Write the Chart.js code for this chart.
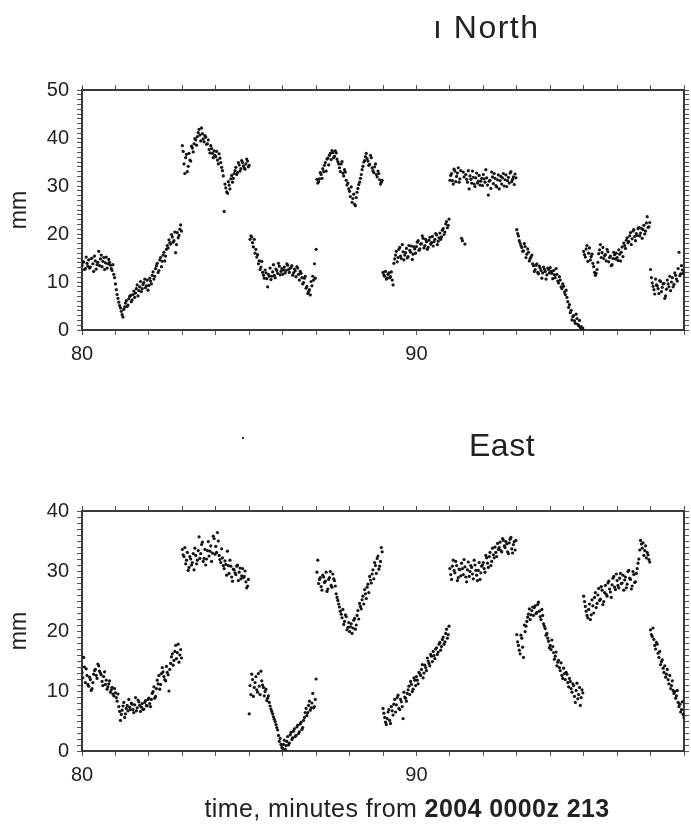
<!DOCTYPE html>
<html>
<head>
<meta charset="utf-8">
<script src="https://cdn.jsdelivr.net/npm/chart.js@4.4.1/dist/chart.umd.min.js"></script>
<style>
    html, body { margin: 0; padding: 0; background: #fff; }
    body { width: 691px; height: 829px; position: relative; overflow: hidden; font-family: "Liberation Sans", Arial, sans-serif; color: #222; }
    .plot { position: absolute; left: 0; }
    .title { position: absolute; font-size: 32px; color: #222; white-space: nowrap; }
    #xlabel { position: absolute; left: 0; width: 814px; top: 794px; text-align: center; font-size: 25px; white-space: nowrap; color: #222; letter-spacing: 0.4px; }
    #xlabel b { font-weight: 600; }
    #speck { position: absolute; left: 242px; top: 437px; width: 2px; height: 2px; background: #333; }
</style>
</head>
<body>
<div class="plot" style="top:0"><canvas id="north-chart" width="691" height="380"></canvas></div>
<div class="plot" style="top:400px"><canvas id="east-chart" width="691" height="400"></canvas></div>
<div class="title" style="left:433px; top:9px; letter-spacing:1.5px">ı North</div>
<div class="title" style="left:469px; top:427px; letter-spacing:0.5px">East</div>
<div id="speck"></div>
<div id="xlabel">time, minutes from <b>2004 0000z 213</b></div>
<script>
// sample times, minutes from 2004 0000z 213 (on the minute grid)
const minutes = [
    80.00,80.05,80.10,80.15,80.20,80.25,80.30,80.35,80.40,80.45,80.50,80.55,80.60,80.65,80.70,80.75,80.80,80.85,80.90,80.95,
    81.00,81.05,81.10,81.15,81.20,81.25,81.30,81.35,81.40,81.45,81.50,81.55,81.60,81.65,81.70,81.75,81.80,81.85,81.90,81.95,
    82.00,82.05,82.10,82.15,82.20,82.25,82.30,82.35,82.40,82.45,82.50,82.55,82.60,82.65,82.70,82.75,82.80,82.85,82.90,82.95,
    83.00,83.05,83.10,83.15,83.20,83.25,83.30,83.35,83.40,83.45,83.50,83.55,83.60,83.65,83.70,83.75,83.80,83.85,83.90,83.95,
    84.00,84.05,84.10,84.15,84.20,84.25,84.30,84.35,84.40,84.45,84.50,84.55,84.60,84.65,84.70,84.75,84.80,84.85,84.90,84.95,
    85.00,85.05,85.10,85.15,85.20,85.25,85.30,85.35,85.40,85.45,85.50,85.55,85.60,85.65,85.70,85.75,85.80,85.85,85.90,85.95,
    86.00,86.05,86.10,86.15,86.20,86.25,86.30,86.35,86.40,86.45,86.50,86.55,86.60,86.65,86.70,86.75,86.80,86.85,86.90,86.95,
    87.00,87.05,87.10,87.15,87.20,87.25,87.30,87.35,87.40,87.45,87.50,87.55,87.60,87.65,87.70,87.75,87.80,87.85,87.90,87.95,
    88.00,88.05,88.10,88.15,88.20,88.25,88.30,88.35,88.40,88.45,88.50,88.55,88.60,88.65,88.70,88.75,88.80,88.85,88.90,88.95,
    89.00,89.05,89.10,89.15,89.20,89.25,89.30,89.35,89.40,89.45,89.50,89.55,89.60,89.65,89.70,89.75,89.80,89.85,89.90,89.95,
    90.00,90.05,90.10,90.15,90.20,90.25,90.30,90.35,90.40,90.45,90.50,90.55,90.60,90.65,90.70,90.75,90.80,90.85,90.90,90.95,
    91.00,91.05,91.10,91.15,91.20,91.25,91.30,91.35,91.40,91.45,91.50,91.55,91.60,91.65,91.70,91.75,91.80,91.85,91.90,91.95,
    92.00,92.05,92.10,92.15,92.20,92.25,92.30,92.35,92.40,92.45,92.50,92.55,92.60,92.65,92.70,92.75,92.80,92.85,92.90,92.95,
    93.00,93.05,93.10,93.15,93.20,93.25,93.30,93.35,93.40,93.45,93.50,93.55,93.60,93.65,93.70,93.75,93.80,93.85,93.90,93.95,
    94.00,94.05,94.10,94.15,94.20,94.25,94.30,94.35,94.40,94.45,94.50,94.55,94.60,94.65,94.70,94.75,94.80,94.85,94.90,94.95,
    95.00,95.05,95.10,95.15,95.20,95.25,95.30,95.35,95.40,95.45,95.50,95.55,95.60,95.65,95.70,95.75,95.80,95.85,95.90,95.95,
    96.00,96.05,96.10,96.15,96.20,96.25,96.30,96.35,96.40,96.45,96.50,96.55,96.60,96.65,96.70,96.75,96.80,96.85,96.90,96.95,
    97.00,97.05,97.10,97.15,97.20,97.25,97.30,97.35,97.40,97.45,97.50,97.55,97.60,97.65,97.70,97.75,97.80,97.85,97.90,97.95,
    98.00
];

// in-between sample times
const minutesMid = [
    80.025,80.075,80.125,80.175,80.225,80.275,80.325,80.375,80.425,80.475,80.525,80.575,80.625,80.675,80.725,80.775,80.825,80.875,80.925,80.975,
    81.025,81.075,81.125,81.175,81.225,81.275,81.325,81.375,81.425,81.475,81.525,81.575,81.625,81.675,81.725,81.775,81.825,81.875,81.925,81.975,
    82.025,82.075,82.125,82.175,82.225,82.275,82.325,82.375,82.425,82.475,82.525,82.575,82.625,82.675,82.725,82.775,82.825,82.875,82.925,82.975,
    83.025,83.075,83.125,83.175,83.225,83.275,83.325,83.375,83.425,83.475,83.525,83.575,83.625,83.675,83.725,83.775,83.825,83.875,83.925,83.975,
    84.025,84.075,84.125,84.175,84.225,84.275,84.325,84.375,84.425,84.475,84.525,84.575,84.625,84.675,84.725,84.775,84.825,84.875,84.925,84.975,
    85.025,85.075,85.125,85.175,85.225,85.275,85.325,85.375,85.425,85.475,85.525,85.575,85.625,85.675,85.725,85.775,85.825,85.875,85.925,85.975,
    86.025,86.075,86.125,86.175,86.225,86.275,86.325,86.375,86.425,86.475,86.525,86.575,86.625,86.675,86.725,86.775,86.825,86.875,86.925,86.975,
    87.025,87.075,87.125,87.175,87.225,87.275,87.325,87.375,87.425,87.475,87.525,87.575,87.625,87.675,87.725,87.775,87.825,87.875,87.925,87.975,
    88.025,88.075,88.125,88.175,88.225,88.275,88.325,88.375,88.425,88.475,88.525,88.575,88.625,88.675,88.725,88.775,88.825,88.875,88.925,88.975,
    89.025,89.075,89.125,89.175,89.225,89.275,89.325,89.375,89.425,89.475,89.525,89.575,89.625,89.675,89.725,89.775,89.825,89.875,89.925,89.975,
    90.025,90.075,90.125,90.175,90.225,90.275,90.325,90.375,90.425,90.475,90.525,90.575,90.625,90.675,90.725,90.775,90.825,90.875,90.925,90.975,
    91.025,91.075,91.125,91.175,91.225,91.275,91.325,91.375,91.425,91.475,91.525,91.575,91.625,91.675,91.725,91.775,91.825,91.875,91.925,91.975,
    92.025,92.075,92.125,92.175,92.225,92.275,92.325,92.375,92.425,92.475,92.525,92.575,92.625,92.675,92.725,92.775,92.825,92.875,92.925,92.975,
    93.025,93.075,93.125,93.175,93.225,93.275,93.325,93.375,93.425,93.475,93.525,93.575,93.625,93.675,93.725,93.775,93.825,93.875,93.925,93.975,
    94.025,94.075,94.125,94.175,94.225,94.275,94.325,94.375,94.425,94.475,94.525,94.575,94.625,94.675,94.725,94.775,94.825,94.875,94.925,94.975,
    95.025,95.075,95.125,95.175,95.225,95.275,95.325,95.375,95.425,95.475,95.525,95.575,95.625,95.675,95.725,95.775,95.825,95.875,95.925,95.975,
    96.025,96.075,96.125,96.175,96.225,96.275,96.325,96.375,96.425,96.475,96.525,96.575,96.625,96.675,96.725,96.775,96.825,96.875,96.925,96.975,
    97.025,97.075,97.125,97.175,97.225,97.275,97.325,97.375,97.425,97.475,97.525,97.575,97.625,97.675,97.725,97.775,97.825,97.875,97.925,97.975
];

// North component, mm (one row per minute)
const northMm = [
    13.5,14.2,12.8,13.9,14.6,13.1,15.0,12.2,14.4,13.6,16.4,14.8,13.2,15.1,14.0,12.9,14.7,13.5,12.4,11.6,
    9.6,7.4,5.8,4.6,3.2,4.3,5.6,4.9,6.5,7.2,6.3,8.1,7.7,9.4,8.2,10.1,8.6,9.9,8.8,10.4,
    9.3,10.2,11.4,10.6,12.8,13.9,12.4,15.1,14.3,16.2,15.4,17.6,18.8,17.9,19.4,18.6,16.1,20.3,19.7,21.9,
    38.4,34.6,35.9,33.0,36.8,35.2,37.9,38.8,39.6,40.3,41.8,39.4,40.9,39.2,40.2,38.8,37.6,38.4,36.8,37.3,
    36.1,35.4,36.7,34.9,33.2,24.7,29.6,28.5,30.2,31.5,30.8,32.6,33.9,32.8,34.4,33.6,34.9,33.8,34.6,35.2,
    34.3,19.6,18.2,18.9,16.8,15.7,14.4,13.1,12.0,10.8,11.9,9.0,11.2,10.5,12.1,11.4,12.7,11.8,13.3,12.2,
    11.6,13.1,12.4,13.5,12.0,13.0,11.4,12.7,11.1,12.9,10.4,11.8,9.6,10.8,8.7,7.6,8.4,10.1,11.2,13.8,
    16.8,30.6,31.5,32.4,33.6,34.3,33.1,35.8,36.4,35.5,37.0,36.2,36.9,35.1,33.8,34.6,32.7,33.4,31.2,30.6,
    28.9,29.8,27.4,26.2,27.6,29.5,30.8,32.4,34.1,35.3,36.8,35.2,34.5,35.9,33.2,34.0,32.4,33.1,31.3,30.8,
    12.0,11.2,10.6,11.6,10.9,12.1,9.4,14.8,16.4,15.1,17.2,14.9,16.3,15.6,17.0,15.3,16.6,17.5,15.8,16.9,
    17.4,18.6,16.9,18.0,19.1,17.6,18.4,17.2,19.3,18.2,17.5,18.9,19.8,18.5,20.2,19.4,21.1,20.4,22.6,21.8,
    31.2,32.6,30.4,33.1,32.0,33.8,31.5,19.1,32.9,17.9,31.4,33.2,32.1,30.6,31.8,29.9,32.7,31.0,30.2,31.6,
    32.4,30.8,31.7,28.1,31.2,32.9,30.5,31.6,29.8,32.3,31.1,30.4,32.6,31.3,29.9,31.8,32.7,30.9,31.9,32.5,
    20.9,19.6,18.1,17.2,16.5,17.4,15.8,16.2,14.9,15.6,13.4,12.6,13.8,11.7,12.9,10.8,13.1,12.2,11.5,12.6,
    13.0,11.8,12.4,10.9,11.6,9.8,10.4,8.6,9.1,7.4,6.8,4.7,3.6,2.1,3.0,1.4,2.4,0.9,0.5,0.2,
    16.4,15.2,17.6,16.0,14.6,15.8,13.2,11.4,12.6,15.9,17.8,16.1,14.9,15.7,16.8,14.2,15.4,13.6,16.2,14.8,
    15.1,16.7,14.4,17.3,18.1,17.0,19.2,18.4,20.3,19.0,20.9,18.6,19.7,21.4,20.2,19.1,21.8,20.6,23.6,21.5,
    12.6,9.8,8.4,10.6,9.2,7.6,10.1,8.9,9.7,7.1,10.4,9.0,8.2,10.9,9.5,11.4,10.2,16.2,11.7,12.5,
    12.0
];

const northMidMm = [
    14.1,12.6,15.2,13.3,12.9,14.9,13.8,15.4,12.7,14.1,13.4,15.6,14.3,12.6,15.2,13.8,14.1,12.8,13.6,10.9,
    8.4,6.6,5.1,3.9,2.7,4.8,6.1,5.2,7.0,5.9,7.4,6.8,8.6,7.1,9.0,8.0,9.5,10.6,9.2,8.3,
    10.8,9.6,12.1,11.2,13.4,12.0,14.6,13.2,15.6,14.4,16.8,17.1,18.2,19.9,18.3,20.4,17.8,19.2,21.0,20.6,
    37.2,32.6,36.6,34.1,35.4,38.3,37.1,39.9,38.5,41.1,40.6,42.1,39.8,40.5,38.7,39.6,36.9,37.8,35.9,36.4,
    37.2,34.6,35.8,33.9,32.1,30.4,28.8,30.9,29.4,32.2,31.6,33.2,32.4,34.9,33.1,35.3,34.2,33.5,35.6,34.0,
    18.9,19.4,17.3,16.0,15.2,13.8,12.6,14.3,11.4,12.5,10.7,11.6,12.9,11.2,13.6,10.9,12.4,13.9,11.5,12.8,
    12.5,11.9,13.8,12.6,12.9,13.4,11.9,12.3,13.2,11.6,12.2,10.9,9.9,11.2,9.1,8.0,7.3,9.2,10.4,10.8,
    31.4,30.9,32.8,31.6,33.0,34.9,35.6,34.4,36.8,37.4,35.9,37.3,35.6,34.6,33.0,35.1,32.1,32.9,30.2,29.4,
    27.8,26.6,28.3,25.9,28.7,30.3,31.6,33.4,35.0,36.1,35.7,34.3,36.4,33.8,32.8,34.6,31.9,32.6,30.4,31.2,
    11.5,12.2,10.8,11.9,11.1,10.4,13.9,15.6,14.2,16.8,15.4,17.8,14.6,16.1,15.0,17.6,16.2,14.7,17.3,16.0,
    18.3,16.6,17.9,19.6,17.1,18.9,16.8,18.7,17.9,19.5,18.4,20.1,17.8,19.2,18.9,20.8,19.9,22.1,21.3,23.1,
    32.2,31.1,33.5,30.9,32.7,30.8,33.2,18.6,31.9,32.4,30.8,29.4,31.4,33.1,30.4,31.7,30.6,32.2,31.0,30.1,
    31.5,33.4,30.2,31.0,29.5,31.9,32.6,30.1,31.3,29.4,32.0,31.7,30.0,32.3,31.1,30.6,33.0,31.4,30.3,31.7,
    20.1,18.6,17.6,16.4,18.0,15.1,16.9,14.4,15.2,13.8,12.2,13.5,12.0,13.3,12.4,11.9,12.7,10.6,12.9,11.9,
    12.2,10.7,11.5,12.8,10.2,11.1,9.0,9.6,7.9,8.3,5.9,5.3,4.1,2.8,1.9,3.3,1.2,2.0,0.7,0.4,
    15.7,16.9,14.3,17.1,15.3,13.9,12.0,11.8,14.1,16.7,15.1,17.2,15.5,14.4,16.3,15.1,13.4,14.9,15.7,16.0,
    14.5,15.8,16.2,15.3,17.6,18.7,18.2,19.6,17.8,20.6,19.5,20.1,21.1,19.6,21.2,20.9,20.0,22.3,21.4,22.4,
    10.9,9.1,7.5,9.4,8.6,10.3,8.0,9.6,6.6,8.5,9.6,11.2,10.0,9.0,11.9,10.6,12.8,11.3,13.4,11.8
];

// East component, mm (one row per minute)
const eastMm = [
    13.1,15.6,11.4,12.6,10.8,11.9,10.4,12.8,13.6,12.1,14.2,13.0,11.6,12.4,11.1,10.3,11.2,9.8,10.6,9.2,
    9.7,8.3,7.4,5.1,6.8,8.1,6.2,7.6,8.6,6.9,7.8,6.4,8.9,7.2,8.2,6.6,7.9,7.0,8.4,7.5,
    8.8,7.4,9.6,10.7,9.1,11.8,12.6,11.1,13.9,12.4,11.7,13.1,10.0,14.6,16.2,15.1,17.6,16.4,14.8,16.9,
    33.6,32.4,31.2,33.1,30.6,32.0,31.4,30.2,32.6,31.8,35.7,32.9,34.8,32.1,31.0,33.4,32.5,34.2,33.0,35.4,
    34.1,36.4,32.6,31.4,32.2,30.4,31.1,33.3,29.6,30.8,28.3,30.2,29.4,31.0,29.8,28.7,30.4,29.1,28.2,27.5,
    6.2,9.4,11.9,10.6,12.4,9.8,10.8,13.3,11.0,9.2,10.3,8.8,8.1,7.0,6.2,5.3,4.4,3.5,1.6,1.1,
    0.4,1.8,0.9,2.4,1.3,3.1,2.2,3.7,2.6,4.3,3.2,4.8,3.9,5.6,7.1,6.4,8.3,7.2,9.6,7.4,
    12.0,31.8,28.6,27.4,29.3,28.1,29.8,27.0,28.9,27.6,29.5,28.4,26.2,25.1,24.0,22.8,23.6,21.6,22.4,20.6,
    19.9,21.2,20.5,22.1,21.0,23.4,24.6,23.7,25.8,26.9,25.4,27.8,29.1,28.0,30.2,31.4,29.6,32.5,30.8,33.9,
    7.1,5.6,4.4,6.5,5.1,7.4,6.0,8.6,7.7,9.3,6.9,8.2,5.4,9.0,8.3,10.2,9.4,11.1,10.3,11.8,
    12.4,11.2,12.9,13.6,12.2,14.3,13.4,15.0,14.2,15.8,16.6,15.4,17.2,16.5,18.1,17.4,19.0,18.2,20.3,19.4,
    30.4,28.6,31.8,29.7,30.9,28.9,30.2,31.3,29.4,30.7,28.2,31.5,29.9,30.6,28.7,31.0,29.3,30.1,28.6,30.8,
    31.4,29.8,32.2,30.6,33.1,31.6,32.7,34.0,32.4,33.6,34.8,33.2,35.1,33.9,34.5,32.9,35.3,33.7,34.4,33.5,
    19.4,17.6,16.2,18.8,15.6,19.9,21.6,22.8,21.9,23.4,22.6,24.2,23.1,24.8,22.4,23.6,21.2,20.4,19.6,18.3,
    17.6,18.5,16.4,15.8,14.2,15.1,13.4,12.6,13.8,11.9,12.8,10.7,11.6,9.8,10.9,8.1,11.3,9.4,7.6,10.2,
    25.8,24.1,22.6,23.6,21.9,25.2,23.0,26.4,24.6,27.1,25.3,26.8,24.9,27.6,25.8,28.3,26.5,27.7,29.1,26.9,
    28.4,27.2,29.6,28.0,26.8,29.0,27.8,30.1,28.6,27.5,29.4,28.2,30.4,32.0,35.1,33.8,32.6,34.2,33.1,31.9,
    20.2,19.1,18.6,17.0,17.8,15.6,14.4,15.2,13.1,12.3,13.6,11.2,10.4,11.7,9.6,8.8,10.1,7.4,6.5,8.2,
    5.6
];

const eastMidMm = [
    12.2,14.0,13.7,11.1,12.3,10.1,11.4,13.4,12.6,14.5,13.3,12.7,10.9,13.2,11.8,10.7,11.7,10.2,9.5,10.4,
    8.9,9.5,6.6,6.1,7.5,5.6,7.1,6.7,7.3,8.0,6.9,7.7,6.7,8.5,7.6,7.3,6.9,8.1,7.6,8.6,
    7.9,8.6,9.9,8.8,10.4,11.2,10.3,12.9,13.2,11.9,14.1,12.7,13.6,15.7,14.3,16.6,15.4,17.8,16.0,15.5,
    32.7,33.9,31.8,30.1,32.4,31.0,32.9,33.8,31.2,33.4,32.1,34.4,31.6,33.6,32.0,34.9,33.3,31.6,35.8,32.8,
    33.1,35.0,31.9,33.7,30.9,31.7,29.3,30.9,31.8,29.0,30.3,29.7,30.8,28.4,30.5,29.2,28.9,30.0,27.2,28.6,
    10.9,12.8,9.1,11.4,10.2,12.9,9.4,11.7,10.6,9.9,8.4,9.2,7.5,6.6,5.7,4.9,3.9,2.6,2.1,0.6,
    1.1,0.3,1.6,1.0,2.7,1.9,3.3,2.4,4.0,2.9,4.5,3.6,5.1,6.4,5.9,7.6,6.8,8.0,7.2,8.6,
    29.8,27.9,28.9,26.8,29.0,28.3,26.6,28.6,29.9,27.3,28.7,27.5,25.6,24.5,23.3,22.2,21.1,22.7,20.2,21.4,
    20.7,19.6,21.8,20.3,22.6,22.0,24.1,25.2,24.5,26.2,27.3,26.4,28.5,29.5,28.7,30.9,32.1,30.3,31.6,33.2,
    6.3,4.8,5.4,6.9,4.6,6.7,7.8,6.5,8.9,7.1,8.6,7.4,9.8,8.8,9.6,10.8,11.6,9.9,12.2,10.9,
    11.8,13.1,12.6,14.4,13.0,13.9,15.5,14.6,16.1,14.9,15.9,17.0,16.1,17.8,16.8,18.6,17.8,19.6,18.8,20.8,
    29.4,30.8,30.1,31.6,28.4,30.3,29.2,30.4,31.9,29.0,30.2,29.1,30.9,29.5,31.8,30.1,28.4,31.4,29.7,31.0,
    30.4,32.6,31.3,32.4,30.9,33.8,32.2,33.1,34.6,33.9,33.4,35.4,34.2,34.9,33.2,34.7,35.6,33.0,34.9,35.1,
    18.2,16.8,19.3,17.3,21.0,20.8,22.3,23.7,22.7,24.0,23.9,22.9,24.4,23.3,21.9,22.6,20.8,19.3,18.8,17.2,
    16.9,17.4,15.3,16.5,14.8,13.9,14.7,12.1,12.9,13.1,11.4,12.1,10.4,11.2,9.1,10.1,8.7,10.6,8.9,9.7,
    24.9,23.3,22.2,24.5,22.7,24.2,25.6,23.9,26.0,25.1,27.4,24.4,26.4,26.1,28.0,27.0,25.6,28.8,27.3,29.5,
    27.6,28.8,27.9,29.3,28.5,27.2,29.9,28.8,27.0,29.9,28.1,29.6,31.3,33.5,34.5,34.7,33.4,32.2,32.7,31.5,
    19.4,20.5,17.6,18.1,16.3,16.6,14.9,13.8,14.2,12.8,11.9,12.6,10.9,10.1,9.9,9.2,8.1,7.8,6.9,6.1
];

// axis ranges and labelled ticks
const timeRange = [80, 98];
const timeTickLabels = [80, 90];
const northRange = [0, 50];
const eastRange = [0, 40];
const mmTickLabels = [0, 10, 20, 30, 40, 50];

const INK = '#222';
const FRAME = '#3a3a3a';
const FONT = '"Liberation Sans", Arial, sans-serif';

function integerTicks(lo, hi) {
    const ticks = [];
    for (let v = lo; v <= hi; v++) ticks.push({ value: v });
    return ticks;
}

function frameAxis(extra) {
    return Object.assign({
        border: { display: true, color: FRAME, width: 2 },
        grid: { drawOnChartArea: false, drawTicks: true, tickLength: 5, color: FRAME, tickColor: '#555', tickWidth: 1 }
    }, extra);
}

function toPoints(times, values) {
    return times.map((t, i) => ({ x: t, y: values[i] }));
}

function makePlot(canvasId, values, midValues, range, topPad, bottomHeight) {
    const points = toPoints(minutes, values).concat(toPoints(minutesMid, midValues));
    const ctx = document.getElementById(canvasId).getContext('2d');

    return new Chart(ctx, {
        type: 'scatter',
        data: {
            datasets: [{
                data: points,
                pointRadius: 1.6,
                pointHoverRadius: 1.6,
                pointBorderWidth: 0,
                backgroundColor: '#141414',
                borderColor: '#141414'
            }]
        },
        options: {
            responsive: false,
            animation: false,
            devicePixelRatio: 1,
            layout: { padding: { top: topPad, left: 0, right: 0, bottom: 0 } },
            plugins: { legend: { display: false }, tooltip: { enabled: false } },
            scales: {
                x: frameAxis({
                    type: 'linear', position: 'bottom',
                    min: timeRange[0], max: timeRange[1],
                    afterBuildTicks: s => { s.ticks = integerTicks(timeRange[0], timeRange[1]); },
                    afterFit: s => { s.height = bottomHeight; },
                    ticks: {
                        autoSkip: false, maxRotation: 0, padding: 7, color: INK,
                        font: { family: FONT, size: 20 },
                        callback: v => timeTickLabels.includes(v) ? String(v) : ''
                    }
                }),
                xTop: frameAxis({
                    type: 'linear', position: 'top',
                    min: timeRange[0], max: timeRange[1],
                    afterBuildTicks: s => { s.ticks = integerTicks(timeRange[0], timeRange[1]); },
                    afterFit: s => { s.height = 5; },
                    ticks: { display: false, autoSkip: false }
                }),
                y: frameAxis({
                    type: 'linear', position: 'left',
                    min: range[0], max: range[1],
                    afterBuildTicks: s => { s.ticks = integerTicks(range[0], range[1]); },
                    afterFit: s => { s.width = 82; },
                    title: { display: true, text: 'mm', color: INK, font: { family: FONT, size: 23 }, padding: { top: 6, bottom: 0 } },
                    ticks: {
                        autoSkip: false, padding: 8, color: INK,
                        font: { family: FONT, size: 20 },
                        callback: v => mmTickLabels.includes(v) ? String(v) : ''
                    }
                }),
                yRight: frameAxis({
                    type: 'linear', position: 'right',
                    min: range[0], max: range[1],
                    afterBuildTicks: s => { s.ticks = integerTicks(range[0], range[1]); },
                    afterFit: s => { s.width = 7; },
                    ticks: { display: false, autoSkip: false }
                })
            }
        }
    });
}

document.addEventListener('DOMContentLoaded', () => {
    window.northChart = makePlot('north-chart', northMm, northMidMm, northRange, 85, 50);
    window.eastChart = makePlot('east-chart', eastMm, eastMidMm, eastRange, 106, 49);
});
</script>
</body>
</html>
